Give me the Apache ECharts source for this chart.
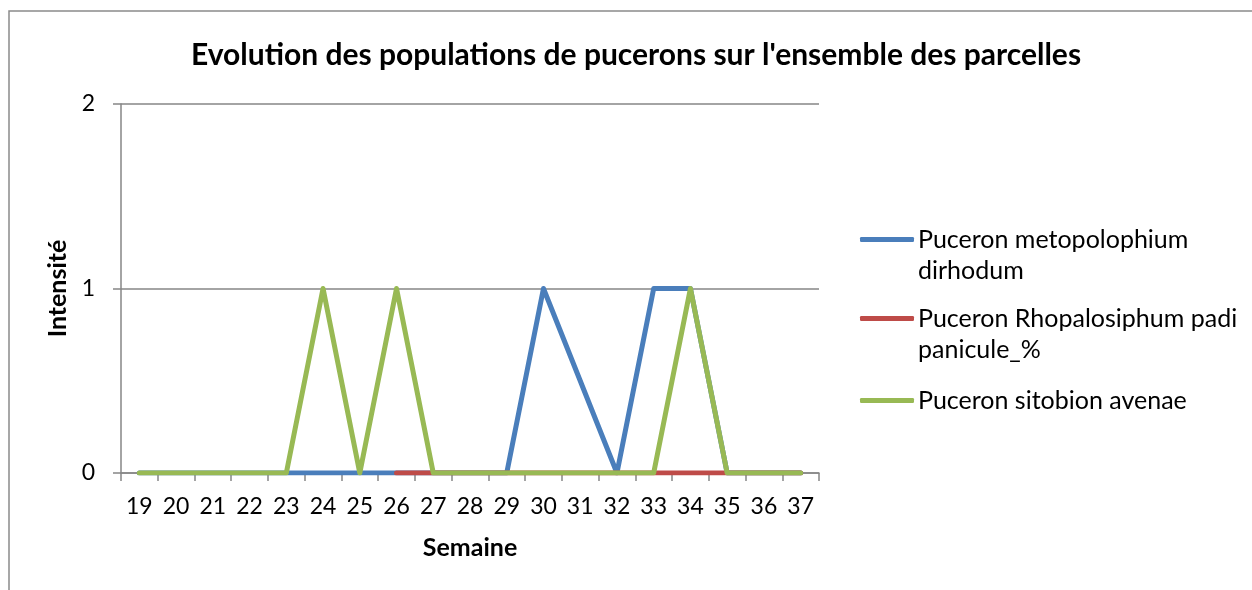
<!DOCTYPE html>
<html>
<head>
<meta charset="utf-8">
<script src="https://cdn.jsdelivr.net/npm/echarts@6/dist/echarts.min.js"></script>
<style>
  html, body { margin: 0; padding: 0; background: #fff; }
  #chart { width: 1252px; height: 590px; }
</style>
</head>
<body>
<div id="chart"></div>
<script>
// semaines
const weeks = ['19', '20', '21', '22', '23', '24', '25', '26', '27', '28', '29', '30', '31', '32', '33', '34', '35', '36', '37']
// intensité par série (null = pas de relevé)
const metopolophium = [0, 0, 0, 0, 0, 0, 0, 0, 0, 0, 0, 1, null, 0, 1, 1, 0, 0, 0]
const rhopalosiphum = [null, null, null, null, null, null, null, 0, 0, 0, 0, 0, 0, 0, 0, 0, 0, 0, 0]
const sitobion = [0, 0, 0, 0, 0, 1, 0, 1, 0, 0, 0, 0, 0, 0, 0, 1, 0, 0, 0]
const yTicks = [0, 1, 2]

const seriesNames = [
  'Puceron metopolophium dirhodum',
  'Puceron Rhopalosiphum padi panicule_%',
  'Puceron sitobion avenae'
]
// libellés de légende tels qu'affichés (retour à la ligne)
const legendLabels = {
  'Puceron metopolophium dirhodum': ' \nPuceron metopolophium\ndirhodum',
  'Puceron Rhopalosiphum padi panicule_%': ' \nPuceron Rhopalosiphum padi\npanicule_%',
  'Puceron sitobion avenae': 'Puceron sitobion avenae'
}
const colors = ['#4a7ebb', '#be4b48', '#98b954']

const font = 'Lato'
const chart = echarts.init(document.getElementById('chart'))

const mkLegend = (name, top) => ({
  data: [name],
  orient: 'vertical',
  left: 860,
  top: top,
  padding: 0,
  icon: 'roundRect',
  itemWidth: 54,
  itemHeight: 5,
  itemGap: 0,
  selectedMode: false,
  formatter: n => legendLabels[n],
  textStyle: { fontFamily: font, fontSize: 25, color: '#000', lineHeight: 31, padding: [0, 0, 0, -1] }
})

const option = {
  backgroundColor: '#fff',
  animation: false,
  color: colors,
  title: {
    text: "Evolution des populations de pucerons sur l'ensemble des parcelles",
    left: 636,
    textAlign: 'center',
    top: 40,
    padding: 0,
    textStyle: { fontFamily: font, fontSize: 30, fontWeight: 'bold', color: '#000' }
  },
  legend: [
    mkLegend(seriesNames[0], 193),
    mkLegend(seriesNames[1], 272),
    mkLegend(seriesNames[2], 385)
  ],
  grid: { left: 121, top: 104, right: 433, bottom: 117 },
  xAxis: {
    type: 'category',
    data: weeks,
    boundaryGap: true,
    name: 'Semaine',
    nameLocation: 'middle',
    nameGap: 62,
    nameTextStyle: { fontFamily: font, fontSize: 25, fontWeight: 'bold', color: '#000' },
    axisLine: { lineStyle: { color: '#868686', width: 1.5 } },
    axisTick: { show: true, length: 8, lineStyle: { color: '#868686', width: 1.5 } },
    axisLabel: { fontFamily: font, fontSize: 23, color: '#000', margin: 22 },
    splitLine: { show: false }
  },
  yAxis: {
    type: 'value',
    min: 0,
    max: 2,
    interval: 1,
    name: 'Intensité',
    nameLocation: 'middle',
    nameGap: 50,
    nameRotate: 90,
    nameTextStyle: { fontFamily: font, fontSize: 25, fontWeight: 'bold', color: '#000' },
    axisLine: { show: true, lineStyle: { color: '#868686', width: 1.5 } },
    axisTick: { show: true, length: 8, lineStyle: { color: '#868686', width: 1.5 } },
    axisLabel: {
      fontFamily: font, fontSize: 23, color: '#000', margin: 26,
      formatter: v => (yTicks.includes(v) ? String(v) : '')
    },
    splitLine: { show: true, lineStyle: { color: '#868686', width: 1.5 } }
  },
  series: [
    { name: seriesNames[0], data: metopolophium },
    { name: seriesNames[1], data: rhopalosiphum },
    { name: seriesNames[2], data: sitobion }
  ].map((s, i) => ({
    ...s,
    type: 'line',
    showSymbol: false,
    symbol: 'none',
    connectNulls: true,
    lineStyle: { width: 5, color: colors[i], join: 'round', cap: 'round' },
    itemStyle: { color: colors[i] }
  })),
  graphic: [
    {
      type: 'rect',
      shape: { x: 9, y: 11, width: 1260, height: 600 },
      style: { fill: 'none', stroke: '#8a8a8a', lineWidth: 1.5 },
      silent: true
    }
  ]
}

chart.setOption(option)
</script>
</body>
</html>
